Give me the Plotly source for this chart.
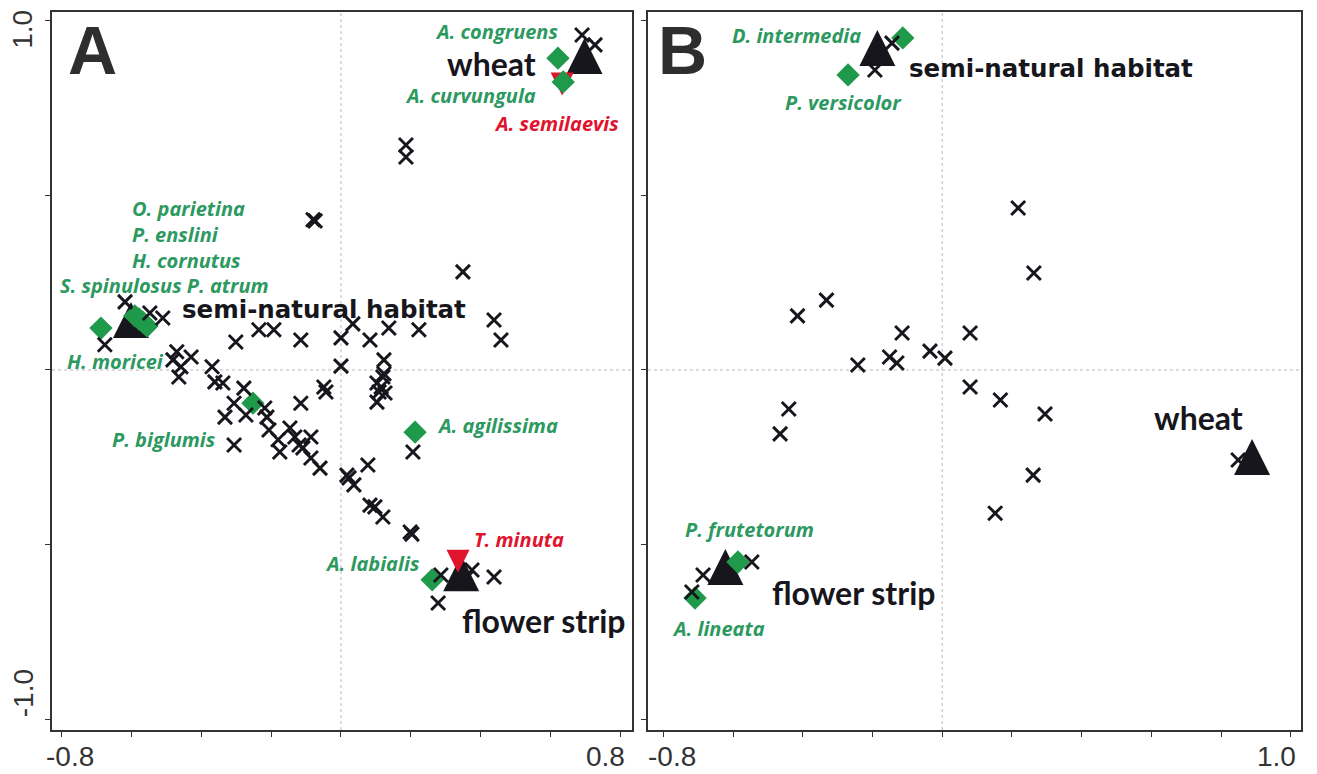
import plotly.graph_objects as go

# ---------------- Panel A data ----------------
a_site_names = ["wheat", "semi-natural habitat", "flower strip"]
a_site_x = [0.697, -0.601, 0.344]
a_site_y = [0.882, 0.126, -0.599]

a_cross_x = [0.690, 0.727, 0.186, 0.186, -0.080, -0.074, 0.349, 0.438, 0.458, 0.223,
             0.137, 0.083, 0.034, 0.000, -0.115, -0.301, -0.235, -0.192, 0.000, 0.123,
             0.123, -0.618, -0.547, -0.510, -0.676, -0.470, -0.429, -0.458, -0.481, -0.369,
             -0.464, -0.361, -0.338, -0.278, -0.306, -0.332, -0.272, -0.218, -0.212, -0.306,
             -0.206, -0.180, -0.175, -0.146, -0.132, -0.115, -0.120, -0.109, -0.086, -0.086,
             -0.060, -0.049, -0.043, 0.017, 0.023, 0.037, 0.077, 0.083, 0.097, 0.120,
             0.103, 0.109, 0.126, 0.103, 0.120, 0.115, 0.198, 0.203, 0.206, 0.278,
             0.438, 0.286, 0.375, 0.358]
a_cross_y = [0.959, 0.931, 0.644, 0.610, 0.430, 0.427, 0.281, 0.143, 0.086, 0.115,
             0.120, 0.086, 0.132, 0.092, 0.086, 0.080, 0.115, 0.115, 0.011, 0.029,
             -0.011, 0.195, 0.163, 0.149, 0.072, 0.052, 0.037, 0.009, 0.029, 0.009,
             -0.020, -0.034, -0.037, -0.052, -0.095, -0.135, -0.129, -0.109, -0.135, -0.215,
             -0.172, -0.200, -0.235, -0.166, -0.192, -0.095, -0.215, -0.223, -0.192, -0.252,
             -0.281, -0.049, -0.063, -0.301, -0.309, -0.329, -0.272, -0.387, -0.392, -0.421,
             -0.037, -0.063, -0.066, -0.092, -0.020, -0.049, -0.464, -0.470, -0.235, -0.667,
             -0.593, -0.587, -0.573, -0.596]

a_red_names = ["A. semilaevis", "T. minuta"]
a_red_x = [0.633, 0.335]
a_red_y = [0.830, -0.537]

a_green_names = ["A. congruens", "A. curvungula", "H. moricei / S. spinulosus", "O. parietina",
                 "P. enslini", "H. cornutus", "P. atrum", "P. biglumis", "A. agilissima", "A. labialis"]
a_green_x = [0.621, 0.636, -0.687, -0.590, -0.578, -0.567, -0.555, -0.252, 0.212, 0.261]
a_green_y = [0.893, 0.825, 0.120, 0.155, 0.146, 0.137, 0.126, -0.095, -0.178, -0.601]

# ---------------- Panel B data ----------------
b_site_names = ["semi-natural habitat", "flower strip", "wheat"]
b_site_x = [-0.186, -0.622, 0.889]
b_site_y = [0.905, -0.581, -0.266]

b_cross_x = [0.218, 0.263, -0.332, -0.415, -0.115, 0.080, -0.035, 0.008, -0.151, -0.130,
             -0.242, 0.080, 0.167, 0.295, -0.440, -0.465, 0.261, 0.152, 0.849, -0.546,
             -0.686, -0.718, -0.144, -0.193]
b_cross_y = [0.464, 0.278, 0.200, 0.155, 0.106, 0.106, 0.054, 0.034, 0.037, 0.020,
             0.014, -0.049, -0.086, -0.126, -0.112, -0.183, -0.301, -0.410, -0.258, -0.550,
             -0.587, -0.636, 0.936, 0.859]

b_green_names = ["D. intermedia", "P. versicolor", "P. frutetorum", "A. lineata"]
b_green_x = [-0.113, -0.270, -0.586, -0.709]
b_green_y = [0.951, 0.845, -0.550, -0.653]

# tick values / labels
a_xticks = [-0.8, -0.6, -0.4, -0.2, 0.0, 0.2, 0.4, 0.6, 0.8]
b_xticks = [-0.8, -0.6, -0.4, -0.2, 0.0, 0.2, 0.4, 0.6, 0.8, 1.0]
yticks = [-1.0, -0.5, 0.0, 0.5, 1.0]
a_xlabels = {-0.8: "-0.8", 0.8: "0.8"}
b_xlabels = {-0.8: "-0.8", 1.0: "1.0"}
y_labels = {1.0: "1.0", -1.0: "-1.0"}

BLACK = "#16161c"
GREEN = "#1f9a4b"
LBL_GREEN = "#2c9960"
RED = "#e0142e"
TRI_SIZE = 36
RED_SIZE = 23

fig = go.Figure()


def add_panel(xa, ya, site_x, site_y, cross_x, cross_y, green_x, green_y, red_x=None, red_y=None):
    fig.add_trace(go.Scatter(
        x=site_x, y=site_y, xaxis=xa, yaxis=ya, mode="markers", hoverinfo="skip",
        marker=dict(symbol="arrow-down", angle=180, standoff=TRI_SIZE * 2 / 3,
                    size=TRI_SIZE, color=BLACK, line=dict(width=0))))
    if red_x is not None:
        fig.add_trace(go.Scatter(
            x=red_x, y=red_y, xaxis=xa, yaxis=ya, mode="markers", hoverinfo="skip",
            marker=dict(symbol="arrow-down", angle=0, standoff=RED_SIZE * 2 / 3,
                        size=RED_SIZE, color=RED, line=dict(width=0))))
    fig.add_trace(go.Scatter(
        x=green_x, y=green_y, xaxis=xa, yaxis=ya, mode="markers", hoverinfo="skip",
        marker=dict(symbol="diamond", size=18, color=GREEN, line=dict(width=0))))
    fig.add_trace(go.Scatter(
        x=cross_x, y=cross_y, xaxis=xa, yaxis=ya, mode="markers", hoverinfo="skip",
        marker=dict(symbol="x-thin", size=14, color=BLACK, line=dict(width=2.9, color=BLACK))))


add_panel("x", "y", a_site_x, a_site_y, a_cross_x, a_cross_y, a_green_x, a_green_y, a_red_x, a_red_y)
add_panel("x2", "y2", b_site_x, b_site_y, b_cross_x, b_cross_y, b_green_x, b_green_y)

ann = []
SP = dict(family="Open Sans", size=20, color=LBL_GREEN, weight=700, style="italic")
SPR = dict(SP, color=RED)
SITE = dict(family="Lato", size=32, color=BLACK, weight=700)
SITE2 = dict(family="DejaVu Sans", size=24.5, color=BLACK, weight=700)


def label(text, x, y, xref, yref, font, xanchor="left", align="left"):
    ann.append(dict(text=text, x=x, y=y, xref=xref, yref=yref, showarrow=False, align=align,
                    xanchor=xanchor, yanchor="middle", font=font))


# Panel A labels
label("A. congruens", 0.444, 0.968, "x", "y", SP, "center")
label("A. curvungula", 0.372, 0.785, "x", "y", SP, "center")
label("A. semilaevis", 0.616, 0.705, "x", "y", SPR, "center")
label("O. parietina<br>P. enslini<br>H. cornutus", -0.604, 0.388, "x", "y", SP)
label("S. spinulosus P. atrum", -0.810, 0.241, "x", "y", SP)
label("H. moricei", -0.790, 0.023, "x", "y", SP)
label("P. biglumis", -0.661, -0.200, "x", "y", SP)
label("A. agilissima", 0.269, -0.158, "x", "y", SP)
label("T. minuta", 0.375, -0.484, "x", "y", SPR)
label("A. labialis", -0.052, -0.553, "x", "y", SP)
label("wheat", 0.432, 0.879, "x", "y", SITE, "center")
label("semi-natural habitat", -0.461, 0.172, "x", "y", SITE2)
label("flower strip", 0.341, -0.716, "x", "y", SITE)

# Panel B labels
label("D. intermedia", -0.609, 0.959, "x2", "y2", SP)
label("P. versicolor", -0.457, 0.765, "x2", "y2", SP)
label("P. frutetorum", -0.744, -0.458, "x2", "y2", SP)
label("A. lineata", -0.781, -0.739, "x2", "y2", SP)
label("semi-natural habitat", -0.101, 0.862, "x2", "y2", SITE2)
label("wheat", 0.734, -0.137, "x2", "y2", SITE, "center")
label("flower strip", -0.494, -0.636, "x2", "y2", SITE)

# Panel letters
LET = dict(family="Liberation Sans", size=68, color="#2e2e2e", weight=700)
ann.append(dict(text="A", x=0.0699, y=0.935, xref="paper", yref="paper", showarrow=False,
                xanchor="center", yanchor="middle", font=LET))
ann.append(dict(text="B", x=0.5186, y=0.935, xref="paper", yref="paper", showarrow=False,
                xanchor="center", yanchor="middle", font=LET))

# Tick labels
TK = dict(family="Liberation Sans", size=28, color="#333333")
XLAB_Y = 0.022
for v, t in a_xlabels.items():
    ann.append(dict(text=t, x=v, y=XLAB_Y, xref="x", yref="paper", showarrow=False,
                    xanchor="center", yanchor="middle", font=TK, xshift=9 if v < 0 else -15))
for v, t in b_xlabels.items():
    ann.append(dict(text=t, x=v, y=XLAB_Y, xref="x2", yref="paper", showarrow=False,
                    xanchor="center", yanchor="middle", font=TK, xshift=9 if v < 0 else -14))
for v, t in y_labels.items():
    ann.append(dict(text=t, x=0.0175, y=v, xref="paper", yref="y", showarrow=False, textangle=-90,
                    xanchor="center", yanchor="middle", font=TK, yshift=-9 if v > 0 else 26))

# dotted zero lines
shapes = []
for xr, yr in (("x", "y"), ("x2", "y2")):
    shapes.append(dict(type="line", xref=xr, yref=yr + " domain", x0=0, x1=0, y0=0, y1=1,
                       line=dict(color="#b8b8b8", width=1, dash="dot"), layer="below"))
    shapes.append(dict(type="line", xref=xr + " domain", yref=yr, x0=0, x1=1, y0=0, y1=0,
                       line=dict(color="#b8b8b8", width=1, dash="dot"), layer="below"))

AX = dict(showgrid=False, zeroline=False, showline=True, mirror=True, linecolor="#333333",
          linewidth=1.8, ticks="outside", ticklen=5, tickwidth=1.4, tickcolor="#333333",
          showticklabels=False, fixedrange=True)
YDOM = [0.0568, 0.9849]

fig.update_layout(
    width=1317, height=774,
    margin=dict(l=0, r=0, t=0, b=0),
    paper_bgcolor="white", plot_bgcolor="white",
    showlegend=False,
    xaxis=dict(AX, domain=[0.0395, 0.4799], range=[-0.827, 0.833], tickvals=a_xticks, anchor="y"),
    yaxis=dict(AX, domain=YDOM, range=[-1.031, 1.026], tickvals=yticks, anchor="x"),
    xaxis2=dict(AX, domain=[0.492, 0.9875], range=[-0.844, 1.028], tickvals=b_xticks, anchor="y2"),
    yaxis2=dict(AX, domain=YDOM, range=[-1.031, 1.026], tickvals=yticks, anchor="x2"),
    annotations=ann,
    shapes=shapes,
)

fig.write_html("out.html")
